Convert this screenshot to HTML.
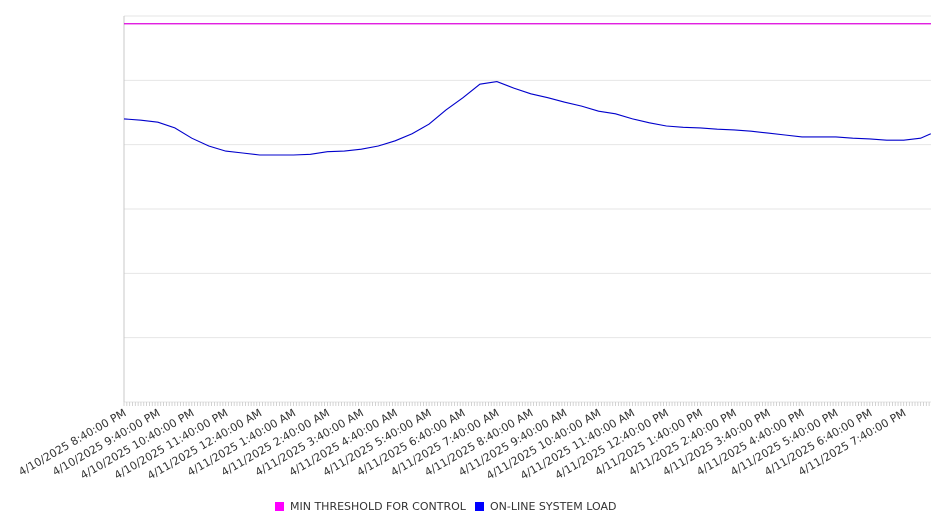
<!DOCTYPE html>
<html><head><meta charset="utf-8">
<style>
html,body{margin:0;padding:0;background:#fff;width:946px;height:526px;overflow:hidden}
svg text{font-family:"DejaVu Sans","Liberation Sans",sans-serif}
</style></head>
<body>
<svg id="chart" width="946" height="526" xmlns="http://www.w3.org/2000/svg"></svg>
<script>
// data (minutes from 4/10/2025 8:40 PM, value in chart units 0-600)
const loadMinutes = [0,30,60,90,120,150,180,210,240,270,300,330,360,390,420,450,480,510,540,570,600,630,660,690,720,750,780,810,840,870,900,930,960,990,1020,1050,1080,1110,1140,1170,1200,1230,1260,1290,1320,1350,1380,1410,1428];
const loadValues = [440,438,435,426,410,398,390,387,384,384,384,385,389,390,393,398,406,417,432,454,473,494,498,488,479,473,466,460,452,448,440,434,429,427,426,424,423,421,418,415,412,412,412,410,409,407,407,410,417];
const thresholdValue = 588;
const tickLabels = ["4/10/2025 8:40:00 PM","4/10/2025 9:40:00 PM","4/10/2025 10:40:00 PM","4/10/2025 11:40:00 PM","4/11/2025 12:40:00 AM","4/11/2025 1:40:00 AM","4/11/2025 2:40:00 AM","4/11/2025 3:40:00 AM","4/11/2025 4:40:00 AM","4/11/2025 5:40:00 AM","4/11/2025 6:40:00 AM","4/11/2025 7:40:00 AM","4/11/2025 8:40:00 AM","4/11/2025 9:40:00 AM","4/11/2025 10:40:00 AM","4/11/2025 11:40:00 AM","4/11/2025 12:40:00 PM","4/11/2025 1:40:00 PM","4/11/2025 2:40:00 PM","4/11/2025 3:40:00 PM","4/11/2025 4:40:00 PM","4/11/2025 5:40:00 PM","4/11/2025 6:40:00 PM","4/11/2025 7:40:00 PM"];
const gridValues = [0,100,200,300,400,500,600];

const NS="http://www.w3.org/2000/svg";
const svg=document.getElementById('chart');
const L=124,R=931,T=16,B=402;
const pxPerMin=33.9/60, yMax=600;
const xs=m=>L+m*pxPerMin;
const ys=v=>B-(v/yMax)*(B-T);
function mk(tag,attrs){const e=document.createElementNS(NS,tag);for(const k in attrs)e.setAttribute(k,attrs[k]);svg.appendChild(e);return e;}

gridValues.forEach(v=>{
  const g=mk('line',{x1:L,x2:R,y1:ys(v),y2:ys(v),stroke:'#e6e6e6','stroke-width':1});
  
  
});
const ax=mk('line',{x1:L,x2:L,y1:T,y2:B,stroke:'#c8c8c8','stroke-width':1});


for(let m=0;xs(m)<=R;m+=5){
  const t=mk('line',{x1:xs(m),x2:xs(m),y1:B,y2:B+4,stroke:'#c8c8c8','stroke-width':0.8});
  
  
}
tickLabels.forEach((s,i)=>{
  const x=xs(i*60)+3, y=B+13;
  const t=mk('text',{x:x,y:y,'text-anchor':'end','font-size':11,fill:'#333',transform:`rotate(-30 ${x} ${y})`});
  t.textContent=s;
  
  
});
const th=mk('line',{x1:L,x2:R,y1:ys(thresholdValue),y2:ys(thresholdValue),stroke:'#dd00dd','stroke-width':1.2});


const d=loadMinutes.map((m,i)=>(i?'L':'M')+xs(m).toFixed(1)+' '+ys(loadValues[i]).toFixed(1)).join(' ');
const ln=mk('path',{d:d,fill:'none',stroke:'#0000cc','stroke-width':1.1});



const lg=[['#ff00ff','MIN THRESHOLD FOR CONTROL',275],['#0000ff','ON-LINE SYSTEM LOAD',475]];
lg.forEach(([c,s,x])=>{
  const r=mk('rect',{x:x,y:502,width:9,height:9,fill:c});
  
  
  const t=mk('text',{x:x+15,y:510,'font-size':11,fill:'#333'});
  t.textContent=s;
  
  
});
</script>
</body></html>
